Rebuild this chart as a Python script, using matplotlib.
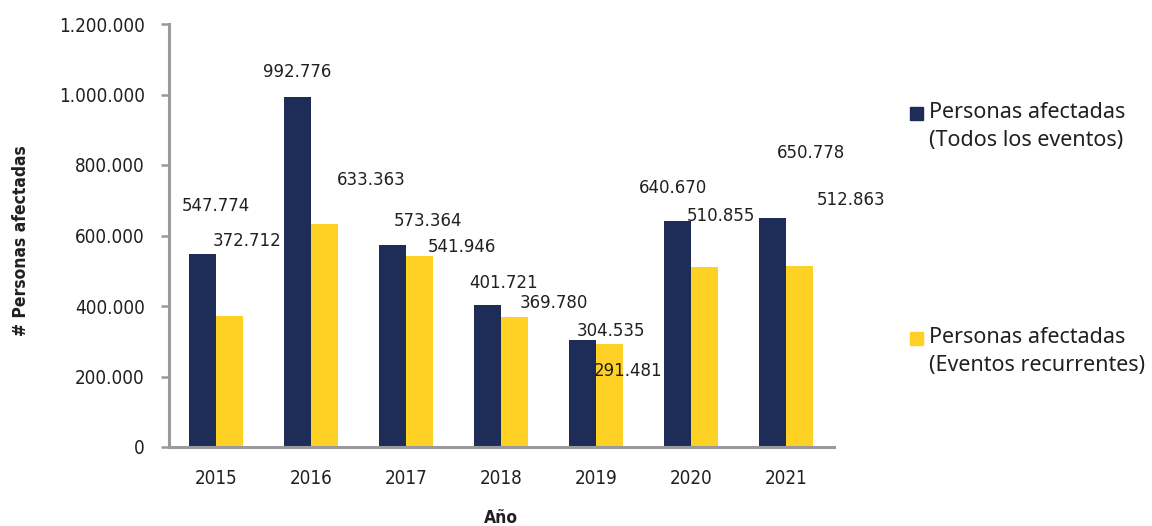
import matplotlib.pyplot as plt
from matplotlib.patches import Rectangle
from matplotlib.ticker import FuncFormatter
from matplotlib import font_manager
import numpy as np

# Datos: personas afectadas por año
anios = ['2015', '2016', '2017', '2018', '2019', '2020', '2021']
todos_eventos = [547774, 992776, 573364, 401721, 304535, 640670, 650778]
eventos_recurrentes = [372712, 633363, 541946, 369780, 291481, 510855, 512863]

serie_todos = 'Personas afectadas\n(Todos los eventos)'
serie_recurrentes = 'Personas afectadas\n(Eventos recurrentes)'

# Posicion de las etiquetas de valor (desplazamiento x en categorias, altura y en datos)
etiq_todos_dx = [0.0, -0.15, 0.23, 0.03, 0.16, -0.19, 0.26]
etiq_todos_y = [683700, 1063800, 641100, 465200, 329100, 734800, 834000]
etiq_rec_dx = [0.33, 0.63, 0.59, 0.56, 0.34, 0.31, 0.68]
etiq_rec_y = [584400, 757400, 567400, 408500, 215600, 655300, 700700]

color_todos = '#1e2c58'
color_rec = '#ffd124'
color_texto = '#231f20'
color_eje = '#9a9a9e'

fuente_ejes = font_manager.FontProperties(family='DejaVu Sans', stretch='condensed', size=13.5)
fuente_ejes_b = font_manager.FontProperties(family='DejaVu Sans', stretch='condensed',
                                            weight='bold', size=12.5)


def miles(v, pos=None):
    return f'{int(v):,}'.replace(',', '.')


fig = plt.figure(figsize=(11.52, 5.26), dpi=100)
ax = fig.add_axes([168.5 / 1152, 1 - 447 / 526, 665 / 1152, 423 / 526])

x = np.arange(len(anios))
ancho = 0.284
ax.bar(x - ancho / 2, todos_eventos, ancho, color=color_todos, zorder=2)
ax.bar(x + ancho / 2, eventos_recurrentes, ancho, color=color_rec, zorder=2)

for i in range(len(anios)):
    ax.text(x[i] + etiq_todos_dx[i], etiq_todos_y[i], miles(todos_eventos[i]),
            ha='center', va='center', fontsize=12, color=color_texto, zorder=3)
    ax.text(x[i] + etiq_rec_dx[i], etiq_rec_y[i], miles(eventos_recurrentes[i]),
            ha='center', va='center', fontsize=12, color=color_texto, zorder=3)

ax.set_xlim(-0.5, len(anios) - 0.5)
ax.set_ylim(0, 1200000)
ax.set_yticks(np.arange(0, 1200001, 200000))
ax.yaxis.set_major_formatter(FuncFormatter(miles))
ax.set_xticks(x)
ax.set_xticklabels(anios)

for s in ['top', 'right']:
    ax.spines[s].set_visible(False)
for s in ['left', 'bottom']:
    ax.spines[s].set_color(color_eje)
    ax.spines[s].set_linewidth(2.2)

ax.tick_params(axis='y', length=6, width=1.8, color=color_eje, pad=11,
               labelcolor=color_texto)
ax.tick_params(axis='x', length=0, pad=16, labelcolor=color_texto)
for lbl in ax.get_xticklabels() + ax.get_yticklabels():
    lbl.set_fontproperties(fuente_ejes)

ax.set_xlabel('Año', fontproperties=fuente_ejes_b, color=color_texto, labelpad=15)
fig.text(21 / 1152, 1 - 241 / 526, '# Personas afectadas', rotation=90,
         ha='center', va='center', fontproperties=fuente_ejes_b, color=color_texto)

# Leyenda a la derecha
for color, texto, ytop in [(color_todos, serie_todos, 102),
                           (color_rec, serie_recurrentes, 327)]:
    fig.add_artist(Rectangle((910 / 1152, 1 - (ytop + 18) / 526), 13 / 1152, 13 / 526,
                             transform=fig.transFigure, color=color))
    fig.text(929 / 1152, 1 - ytop / 526, texto, ha='left', va='top',
             fontsize=15.5, fontfamily='Noto Sans', color=color_texto,
             linespacing=1.45)

plt.savefig('out.png', dpi=100)
